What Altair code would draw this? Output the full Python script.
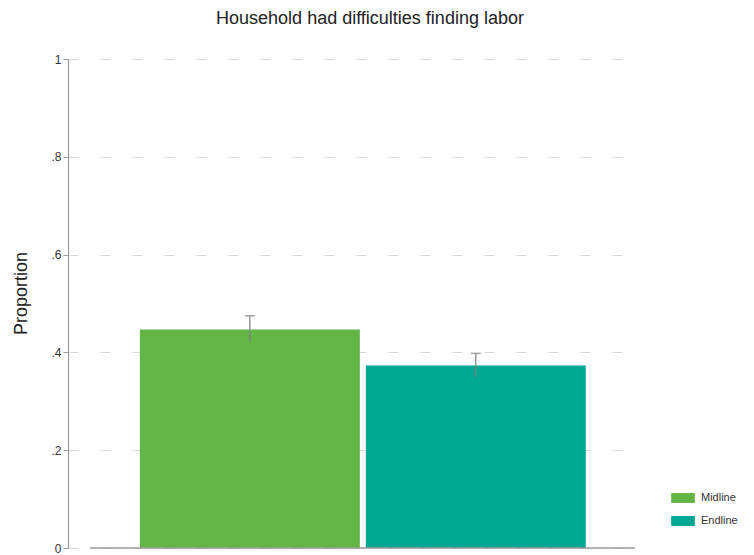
import altair as alt
import pandas as pd

waves = ["Midline", "Endline"]
proportion = [0.447, 0.373]
ci_low = [0.420, 0.350]
ci_high = [0.475, 0.398]
colors = ["#63b546", "#00a892"]
y_ticks = [0, 0.2, 0.4, 0.6, 0.8, 1]

df = pd.DataFrame({"wave": waves, "p": proportion, "lo": ci_low, "hi": ci_high})

W, H = 572, 489

xscale = alt.Scale(domain=waves, paddingInner=0.0265, paddingOuter=0.279, align=0.57)
yscale = alt.Scale(domain=[0, 1], nice=False)

base = alt.Chart(df)

bars = base.mark_bar().encode(
    x=alt.X("wave:N", scale=xscale, sort=waves, axis=None),
    y=alt.Y("p:Q", scale=yscale, title="Proportion",
            axis=alt.Axis(values=y_ticks,
                          labelExpr="datum.value == 0 ? '0' : datum.value == 1 ? '1' : replace(format(datum.value, '.1f'), '0.', '.')",
                          grid=True, gridDash=[10, 22], gridColor="#d9d9d9", gridWidth=1,
                          domainColor="#9a9a9a", domainWidth=1.2, tickColor="#9a9a9a", tickSize=5,
                          labelColor="#333333", labelFontSize=12, labelFont="Liberation Sans",
                          labelPadding=2,
                          titleFont="Liberation Sans", titleFontSize=18, titleFontWeight="normal",
                          titleColor="#222222", titlePadding=20, titleY=234)),
    color=alt.Color("wave:N", scale=alt.Scale(domain=waves, range=colors),
                    legend=alt.Legend(title=None, orient="none", legendX=603, legendY=427,
                                      symbolType="M-1,-0.42L1,-0.42L1,0.42L-1,0.42Z",
                                      symbolSize=560, symbolStrokeWidth=0,
                                      labelFont="Liberation Sans", labelFontSize=11,
                                      labelColor="#333333", rowPadding=6, labelOffset=6)),
)

err = base.mark_rule(color="#7f7f7f", strokeWidth=1.2).encode(
    x=alt.X("wave:N", scale=xscale, sort=waves, bandPosition=0.5),
    y=alt.Y("lo:Q", scale=yscale),
    y2="hi:Q",
)
cap_hi = base.mark_tick(color="#7f7f7f", thickness=1.5, size=10, orient="horizontal").encode(
    x=alt.X("wave:N", scale=xscale, sort=waves, bandPosition=0.5),
    y=alt.Y("hi:Q", scale=yscale),
)

xline = alt.Chart(df).mark_rule(color="#9a9a9a", strokeWidth=1.2).encode(
    x=alt.value(22), x2=alt.value(567), y=alt.value(H)
)

chart = alt.layer(bars, err, cap_hi, xline).properties(
    width=W, height=H,
    background="white",
    title=alt.TitleParams("Household had difficulties finding labor", font="Liberation Sans",
                          fontSize=18, fontWeight="normal", color="#222222", offset=25, dx=16),
    autosize="none",
    padding={"left": 68, "top": 59, "right": 114, "bottom": 7},
).configure_view(strokeWidth=0, stroke=None)

chart.save("out.html", embed_options={"renderer": "svg", "actions": False})
